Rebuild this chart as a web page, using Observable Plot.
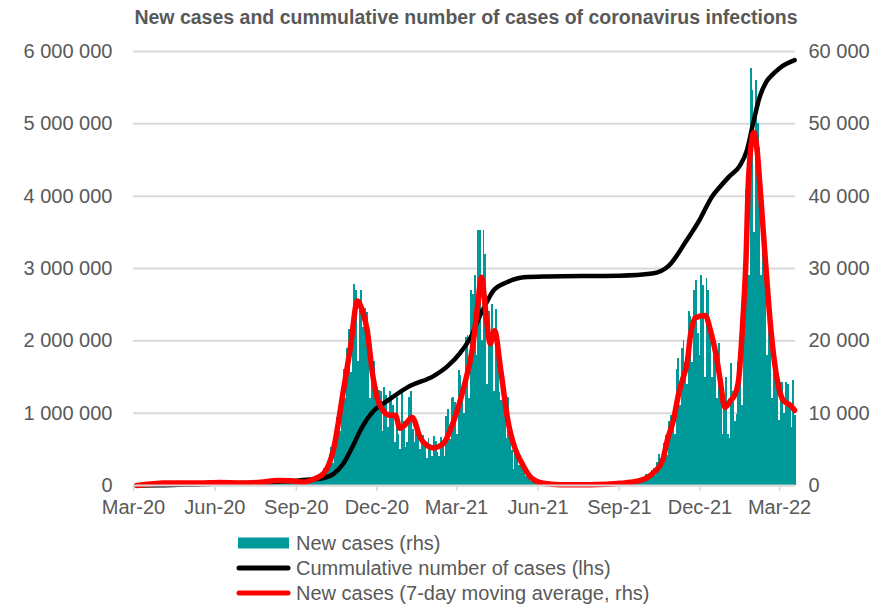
<!DOCTYPE html>
<html>
<head>
<meta charset="utf-8">
<script src="https://cdn.jsdelivr.net/npm/d3@7"></script>
<script src="https://cdn.jsdelivr.net/npm/@observablehq/plot@0.6"></script>
<style>
  html, body { margin: 0; padding: 0; background: #fff; }
  #wrap { position: relative; width: 886px; height: 609px; font-family: "Liberation Sans", Arial, sans-serif; color: #595959; }
  #title { position: absolute; top: 6px; left: 466px; transform: translateX(-50%); white-space: nowrap; font-weight: bold; font-size: 19.5px; color: #595959; }
  #chart { position: absolute; top: 30px; left: 0; }
  #legend { position: absolute; left: 0; top: 0; }
</style>
</head>
<body>
<div id="wrap">
  <div id="title">New cases and cummulative number of cases of coronavirus infections</div>
  <div id="chart"></div>
</div>
<script>
// ---- DATA ----
// Daily new cases (rhs), sampled every 2 days starting 2020-03-04
const barsStart = "2020-03-04";
const barsStepDays = 2;
const newCases = [
  0, 1, 5, 15, 30, 60, 100, 150, 170, 200, 250, 200, 240, 290,
  240, 400, 380, 320, 280, 330, 290, 370, 300, 380, 280, 320, 310, 300, 270,
  300, 280, 260, 300, 330, 320, 300, 250, 400, 320, 300, 260, 280, 440, 330,
  350, 290, 380, 600, 550, 400, 330, 350, 500, 380, 300, 310, 320, 290, 260,
  300, 290, 280, 320, 300, 290, 330, 350, 300, 360, 420, 380, 420, 520, 620,
  650, 680, 600, 750, 800, 840, 720, 860, 900, 600, 580, 850, 900, 700, 780,
  800, 620, 700, 550, 600, 650, 500, 600, 700, 950, 800, 1000,
  750, 1150, 1550, 1000, 1300, 2300, 2500, 2200, 4300, 5300,
  3100, 6500, 9400, 9000, 7500, 13600, 16000, 12000, 19000, 21600,
  15600, 19300, 27800, 27000, 17200, 25600, 27000, 21900, 24500, 23900,
  21400, 12000, 15800, 17200, 11500, 13500, 13200, 13000, 7500, 13500,
  12500, 8000, 13000, 12400, 11000, 6000, 12200, 7000, 5000, 12800,
  8900, 5200, 6000, 12200, 13000, 7800, 5900, 8300, 6900, 5000,
  7100, 6900, 5400, 3800, 6500, 5700, 4000, 6800, 6100, 4500,
  4000, 6700, 5800, 4000, 9500, 10500, 6300, 12000, 12100, 11500,
  7000, 15900, 15200, 12100, 9900, 20500, 20700, 12000, 27000, 26400,
  29000, 18000, 35300, 35200, 20000, 35300, 32000, 14000, 24000, 21000,
  25000, 13000, 24300, 17000, 12900, 11800, 12000, 12800, 6500, 12100,
  8400, 4800, 2200, 5300, 5000, 2800, 3200, 3100, 2500, 1200,
  2000, 1500, 600, 1000, 850, 550, 350, 400, 380, 250,
  300, 250, 180, 120, 170, 140, 60, 110, 110, 80,
  60, 100, 95, 40, 90, 110, 80, 60, 110, 120,
  50, 120, 130, 90, 80, 150, 170, 70, 170, 200,
  150, 120, 230, 250, 90, 260, 270, 200, 150, 310,
  320, 150, 370, 410, 330, 250, 510, 530, 240, 650,
  750, 650, 520, 920, 1000, 620, 1200, 1500, 1200, 1000,
  2100, 2300, 1400, 3200, 4300, 3800, 2900, 5800, 6900, 4100,
  8900, 9700, 9000, 7000, 16000, 17500, 11000, 19000, 20000, 17000,
  14000, 24100, 23400, 17000, 27000, 28400, 21000, 18000, 29000, 27600,
  15000, 28600, 27000, 22000, 15000, 21000, 19000, 12000, 19600, 15500,
  7000, 12100, 15000, 7100, 6500, 16900, 13000, 8800, 9800, 17000,
  16000, 11000, 30000, 40800, 30500, 29100, 57700, 54600, 35000, 56000,
  50000, 46700, 29000, 39400, 33000, 18000, 29000, 22000, 12000, 19000,
  17000, 14500, 9000, 14200, 14200, 10000, 14200, 14000, 11000, 8000,
  14500, 9700
];

// 7-day moving average of new cases (rhs)
const avgDates = [
  "2020-03-05","2020-03-20","2020-04-04","2020-04-23","2020-05-16","2020-06-07","2020-06-30","2020-07-23",
  "2020-08-11","2020-08-25","2020-09-09","2020-09-19","2020-10-02","2020-10-13","2020-10-24","2020-11-01",
  "2020-11-09","2020-11-15","2020-11-20","2020-11-26","2020-12-02","2020-12-08","2020-12-16","2020-12-22",
  "2020-12-27","2021-01-01","2021-01-10","2021-01-19","2021-01-27","2021-02-03","2021-02-14","2021-02-26",
  "2021-03-09","2021-03-19","2021-03-25","2021-03-29","2021-04-04","2021-04-08","2021-04-13","2021-04-20",
  "2021-04-28","2021-05-07","2021-05-12","2021-05-24","2021-06-07","2021-06-26","2021-07-30","2021-09-02",
  "2021-09-25","2021-10-10","2021-10-20","2021-10-25","2021-11-01","2021-11-07","2021-11-11","2021-11-17",
  "2021-11-20","2021-11-26","2021-12-07","2021-12-13","2021-12-19","2021-12-24","2021-12-29","2022-01-05",
  "2022-01-10","2022-01-14","2022-01-18","2022-01-22","2022-01-25","2022-01-31","2022-02-04","2022-02-07",
  "2022-02-13","2022-02-19","2022-02-23","2022-02-28","2022-03-05","2022-03-13","2022-03-18"
];
const avgValues = [
  0, 200, 350, 330, 350, 420, 330, 450,
  700, 650, 450, 800, 1700, 5000, 13000, 19000,
  25500, 24000, 21500, 15500, 11800, 10400, 9700, 9700,
  7900, 8300, 9400, 6600, 5500, 5200, 5800, 9000,
  13500, 19000, 25000, 28800, 22800, 19600, 21400, 15900,
  9000, 4800, 3500, 1100, 300, 100, 120, 300,
  700, 1800, 3500, 6200, 9000, 12700, 14500, 17300,
  20500, 23200, 23500, 21400, 18200, 14500, 10800, 11800,
  12700, 14900, 21800, 31100, 42600, 48800, 45900, 41200,
  31100, 21800, 17300, 13600, 11800, 11100, 10400
];

// Cumulative number of cases (lhs)
const cumDates = [
  "2020-03-04","2020-04-01","2020-05-01","2020-06-01","2020-07-01","2020-08-01","2020-09-01","2020-09-20",
  "2020-10-01","2020-10-13","2020-10-24","2020-11-03","2020-11-14","2020-11-25","2020-12-14","2021-01-05",
  "2021-02-04","2021-02-18","2021-03-05","2021-03-19","2021-03-25","2021-04-01","2021-04-12","2021-04-27",
  "2021-05-16","2021-06-12","2021-09-01","2021-10-08","2021-10-27","2021-11-16","2021-12-01","2021-12-15",
  "2021-12-23","2022-01-03","2022-01-15","2022-01-23","2022-01-30","2022-02-06","2022-02-14","2022-02-21",
  "2022-03-01","2022-03-18"
];
const cumValues = [
  0, 2500, 13000, 24000, 35000, 46000, 67000, 85000,
  100000, 160000, 300000, 525000, 800000, 1000000, 1180000, 1360000,
  1520000, 1640000, 1830000, 2100000, 2280000, 2460000, 2700000, 2810000,
  2880000, 2890000, 2900000, 2930000, 3040000, 3390000, 3680000, 4000000,
  4120000, 4270000, 4420000, 4630000, 5000000, 5350000, 5580000, 5680000,
  5770000, 5880000
];

// Axes
const xTickDates = ["2020-03-01","2020-06-01","2020-09-01","2020-12-01","2021-03-01","2021-06-01","2021-09-01","2021-12-01","2022-03-01"];
const lhsTicks = [0, 1000000, 2000000, 3000000, 4000000, 5000000, 6000000];
const rhsRatio = 100; // lhs 6 000 000 <-> rhs 60 000
const xDomain = ["2020-03-01", "2022-03-19"];

// ---- BUILD ----
const parse = d3.utcParse("%Y-%m-%d");
const t0 = parse(barsStart);
const bars = newCases.map((v, i) => ({
  x1: d3.utcDay.offset(t0, i * barsStepDays),
  x2: d3.utcDay.offset(t0, (i + 1) * barsStepDays),
  y: v * rhsRatio
}));
const avg = avgDates.map((d, i) => ({date: parse(d), y: avgValues[i] * rhsRatio}));
const cum = cumDates.map((d, i) => ({date: parse(d), y: cumValues[i]}));
const sp = n => d3.format(",")(n).replace(/,/g, " ");
const fmtX = d3.utcFormat("%b-%y");

const chart = Plot.plot({
  width: 886,
  height: 500,
  marginTop: 21,
  marginBottom: 45,
  marginLeft: 133,
  marginRight: 91,
  style: {fontFamily: '"Liberation Sans", Arial, sans-serif', fontSize: "20px", color: "#595959", background: "white"},
  x: {type: "utc", domain: xDomain.map(parse)},
  y: {domain: [0, 6000000]},
  marks: [
    Plot.gridY(lhsTicks, {stroke: "#d9d9d9", strokeOpacity: 1, strokeWidth: 2}),
    Plot.rectY(bars, {x1: "x1", x2: "x2", y: "y", fill: "#009999", inset: 0, shapeRendering: "crispEdges"}),
    Plot.line(cum, {x: "date", y: "y", stroke: "#000", strokeWidth: 4.5, curve: "monotone-x", strokeLinejoin: "round", strokeLinecap: "round"}),
    Plot.line(avg, {x: "date", y: "y", stroke: "#ff0000", strokeWidth: 5.5, curve: "monotone-x", strokeLinejoin: "round", strokeLinecap: "round"}),
    Plot.ruleY([0], {stroke: "#d9d9d9", strokeWidth: 2}),
    Plot.axisX({ticks: xTickDates.map(parse), tickFormat: fmtX, tickSize: 6, tickPadding: 8, stroke: "#d9d9d9", fill: "#595959", strokeWidth: 1.5, label: null}),
    Plot.axisY({anchor: "left", ticks: lhsTicks, tickFormat: sp, tickSize: 0, tickPadding: 21, fill: "#595959", label: null}),
    Plot.axisY({anchor: "right", ticks: lhsTicks, tickFormat: d => sp(d / rhsRatio), tickSize: 0, tickPadding: 13, fill: "#595959", label: null})
  ]
});
document.getElementById("chart").appendChild(chart);

// ---- LEGEND ----
const legendItems = [
  {label: "New cases (rhs)", type: "rect", color: "#009999", cy: 543},
  {label: "Cummulative number of cases (lhs)", type: "line", color: "#000000", cy: 568},
  {label: "New cases (7-day moving average, rhs)", type: "line", color: "#ff0000", cy: 593}
];
const wrap = document.getElementById("wrap");
const ns = "http://www.w3.org/2000/svg";
const lsvg = document.createElementNS(ns, "svg");
lsvg.setAttribute("width", 886); lsvg.setAttribute("height", 609);
lsvg.setAttribute("id", "legend");
lsvg.style.pointerEvents = "none";
for (const it of legendItems) {
  if (it.type === "rect") {
    const r = document.createElementNS(ns, "rect");
    r.setAttribute("x", 238); r.setAttribute("y", it.cy - 5.5);
    r.setAttribute("width", 51); r.setAttribute("height", 11);
    r.setAttribute("fill", it.color);
    lsvg.appendChild(r);
  } else {
    const l = document.createElementNS(ns, "line");
    l.setAttribute("x1", 239); l.setAttribute("x2", 288);
    l.setAttribute("y1", it.cy); l.setAttribute("y2", it.cy);
    l.setAttribute("stroke", it.color); l.setAttribute("stroke-width", 5);
    l.setAttribute("stroke-linecap", "round");
    lsvg.appendChild(l);
  }
  const t = document.createElementNS(ns, "text");
  t.setAttribute("x", 296); t.setAttribute("y", it.cy);
  t.setAttribute("dy", "0.35em");
  t.setAttribute("fill", "#595959");
  t.setAttribute("font-size", "20px");
  t.setAttribute("font-family", '"Liberation Sans", Arial, sans-serif');
  t.textContent = it.label;
  lsvg.appendChild(t);
}
wrap.appendChild(lsvg);
</script>
</body>
</html>
